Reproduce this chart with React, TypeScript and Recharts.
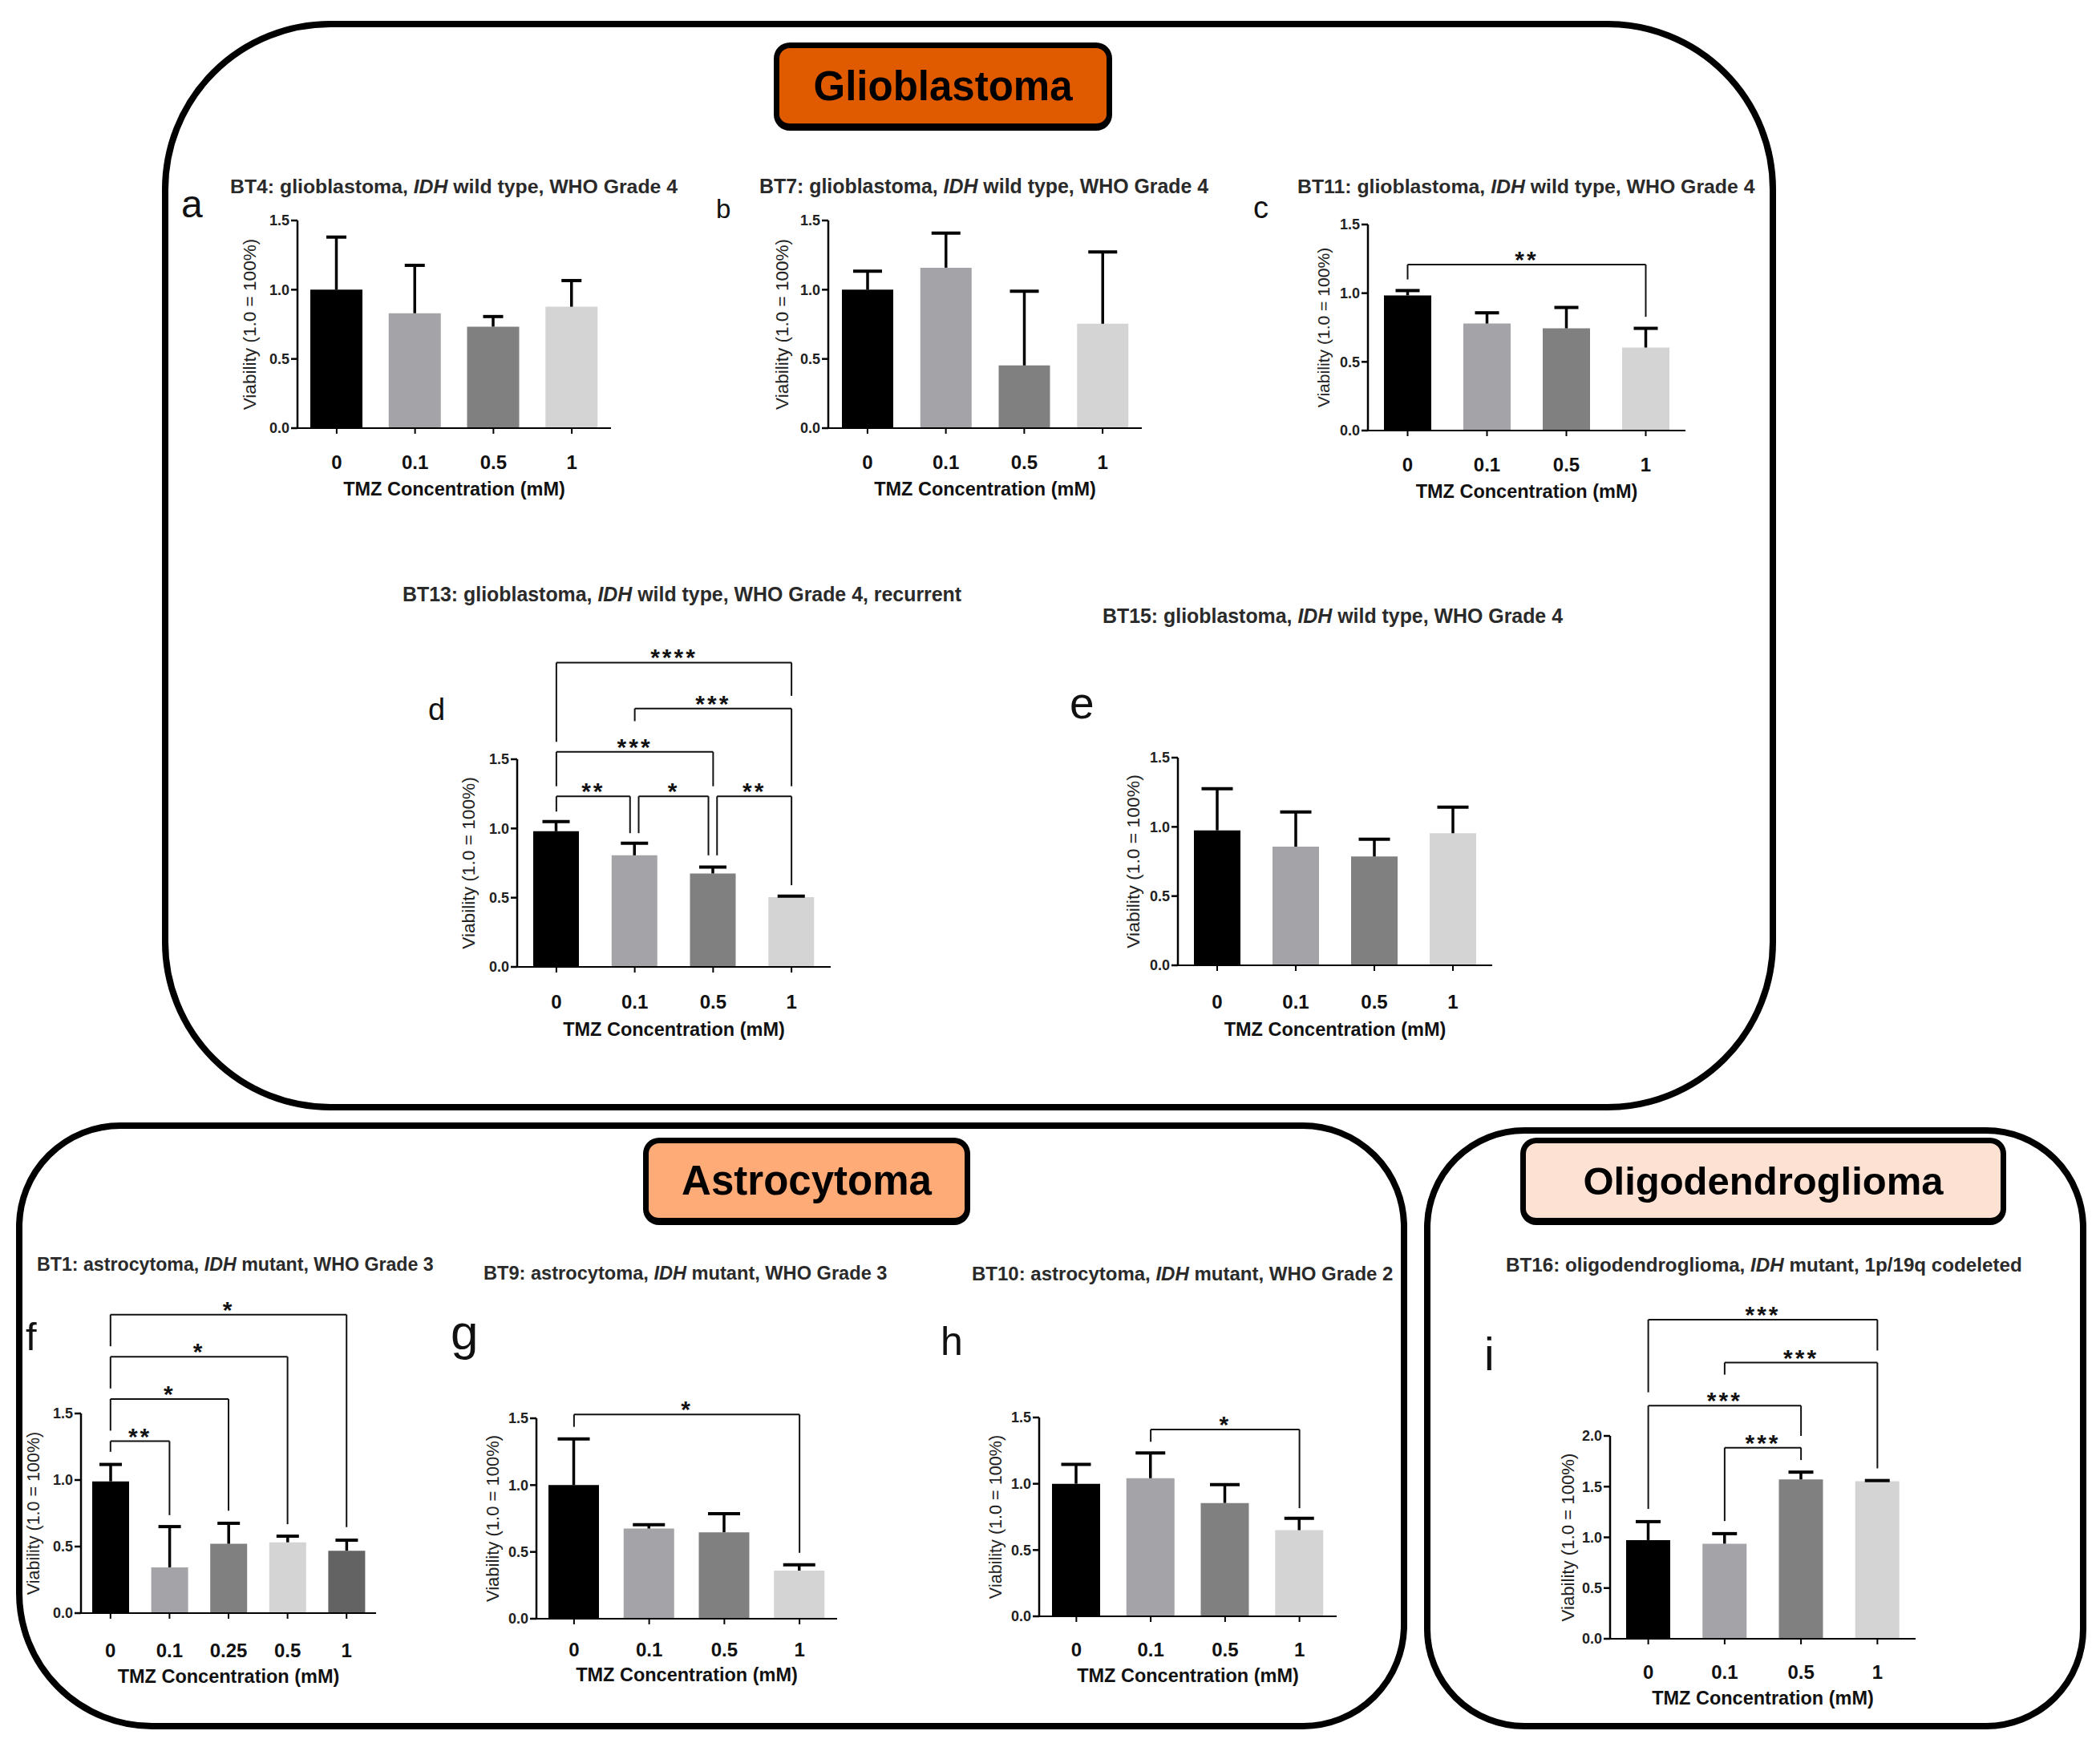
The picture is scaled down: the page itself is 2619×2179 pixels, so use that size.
import React from "react";
import { BarChart, Bar, XAxis, YAxis, Cell, ReferenceLine } from "recharts";

const SANS = '"Liberation Sans", Arial, Helvetica, sans-serif';

// categories (TMZ mM)
const DOSES_4 = ["0", "0.1", "0.5", "1"];
const DOSES_5 = ["0", "0.1", "0.25", "0.5", "1"];
const GRAYS_4 = ["#000000", "#a4a4a8", "#808080", "#d4d4d4"];
const GRAYS_5 = ["#000000", "#a4a4a8", "#808080", "#d4d4d4", "#636363"];

// viability means and upper error (SD) per cell line
const bt4Mean = [1.0, 0.83, 0.733, 0.877];
const bt4Err = [0.38, 0.346, 0.073, 0.189];
const bt7Mean = [1.0, 1.159, 0.453, 0.754];
const bt7Err = [0.134, 0.25, 0.536, 0.518];
const bt11Mean = [0.984, 0.779, 0.744, 0.604];
const bt11Err = [0.035, 0.078, 0.152, 0.14];
const bt13Mean = [0.98, 0.806, 0.675, 0.504];
const bt13Err = [0.069, 0.087, 0.046, 0.007];
const bt15Mean = [0.975, 0.857, 0.786, 0.954];
const bt15Err = [0.3, 0.25, 0.124, 0.188];
const bt1Mean = [0.99, 0.344, 0.521, 0.532, 0.469];
const bt1Err = [0.127, 0.306, 0.154, 0.046, 0.079];
const bt9Mean = [1.0, 0.675, 0.647, 0.36];
const bt9Err = [0.346, 0.028, 0.139, 0.043];
const bt10Mean = [1.0, 1.042, 0.855, 0.65];
const bt10Err = [0.146, 0.19, 0.138, 0.09];
const bt16Mean = [0.973, 0.9375, 1.571, 1.554];
const bt16Err = [0.182, 0.099, 0.072, 0.006];

const TICKS_15 = [0, 0.5, 1, 1.5];
const TICKS_20 = [0, 0.5, 1, 1.5, 2];

type Bracket = { from: number; to: number; y: number; yFrom: number; yTo: number; stars: string };

// significance brackets (x = category index, y in viability units)
const bt11Sig: Bracket[] = [{ from: 0, to: 3, y: 1.208, yFrom: 1.1, yTo: 0.828, stars: "**" }];
const bt13Sig: Bracket[] = [
  { from: 0, to: 0.94, y: 1.232, yFrom: 1.122, yTo: 0.966, stars: "**" },
  { from: 1.05, to: 1.94, y: 1.232, yFrom: 0.966, yTo: 0.806, stars: "*" },
  { from: 2.05, to: 3, y: 1.232, yFrom: 0.806, yTo: 0.59, stars: "**" },
  { from: 0, to: 2, y: 1.553, yFrom: 1.305, yTo: 1.305, stars: "***" },
  { from: 1, to: 3, y: 1.866, yFrom: 1.775, yTo: 1.305, stars: "***" },
  { from: 0, to: 3, y: 2.198, yFrom: 1.626, yTo: 1.958, stars: "****" },
];
const bt1Sig: Bracket[] = [
  { from: 0, to: 1, y: 1.292, yFrom: 1.212, yTo: 0.736, stars: "**" },
  { from: 0, to: 2, y: 1.609, yFrom: 1.371, yTo: 0.77, stars: "*" },
  { from: 0, to: 3, y: 1.926, yFrom: 1.688, yTo: 0.668, stars: "*" },
  { from: 0, to: 4, y: 2.243, yFrom: 2.005, yTo: 0.646, stars: "*" },
];
const bt9Sig: Bracket[] = [{ from: 0, to: 3, y: 1.528, yFrom: 1.436, yTo: 0.493, stars: "*" }];
const bt10Sig: Bracket[] = [{ from: 1, to: 3, y: 1.409, yFrom: 1.317, yTo: 0.816, stars: "*" }];
const bt16Sig: Bracket[] = [
  { from: 1, to: 2, y: 1.884, yFrom: 1.161, yTo: 1.762, stars: "***" },
  { from: 0, to: 2, y: 2.298, yFrom: 1.28, yTo: 2.0, stars: "***" },
  { from: 1, to: 3, y: 2.723, yFrom: 2.604, yTo: 1.68, stars: "***" },
  { from: 0, to: 3, y: 3.146, yFrom: 2.43, yTo: 2.842, stars: "***" },
];

type Geo = {
  L: number; R: number; T: number; B: number;
  barW: number; cap: number; ylabOff: number; ylabFs: number;
  tickOff: number; titleOff: number; tickFs: number; mTop: number;
};

function Whisker(props: any) {
  const { x, y, width, height, cap } = props;
  const cx = x + width / 2;
  return (
    <g>
      <line x1={cx} y1={y} x2={cx} y2={y + height} stroke="#000" strokeWidth={3.5} />
      <line x1={cx - cap / 2} y1={y} x2={cx + cap / 2} y2={y} stroke="#000" strokeWidth={4} />
    </g>
  );
}

function BarPanel({
  g, cats, mean, err, colors, yTicks, brackets = [],
}: {
  g: Geo; cats: string[]; mean: number[]; err: number[]; colors: string[];
  yTicks: number[]; brackets?: Bracket[];
}) {
  const W = 2 * g.ylabOff;
  const xH = 100;
  const mRight = 12;
  const width = W + (g.R - g.L) + mRight;
  const height = g.mTop + (g.B - g.T) + xH;
  const data = cats.map((c, i) => ({ c, i, v: mean[i], e: err[i] }));
  const xFs = 24;
  const tickMargin = g.tickOff - 7 - 0.36 * xFs;
  const titleOffset = xH - g.titleOff - 0.36 * 23.5;
  const yMax = yTicks[yTicks.length - 1];

  return (
    <div style={{ position: "absolute", left: g.L - W, top: g.T - g.mTop }}>
      <BarChart
        width={width}
        height={height}
        data={data}
        barSize={g.barW}
        margin={{ top: g.mTop, right: mRight, bottom: 0, left: 0 }}
      >
        <XAxis
          dataKey="c"
          height={xH}
          stroke="#000"
          strokeWidth={2}
          tickSize={7}
          tickMargin={tickMargin}
          tick={{ fill: "#111", fontSize: xFs, fontWeight: "bold", fontFamily: SANS }}
          label={{
            value: "TMZ Concentration (mM)",
            position: "insideBottom",
            offset: titleOffset,
            fill: "#111",
            fontSize: 23.5,
            fontWeight: "bold",
            fontFamily: SANS,
          }}
        />
        <XAxis xAxisId="n" type="number" dataKey="i" domain={[-0.5, cats.length - 0.5]} allowDataOverflow hide />
        <YAxis
          width={W}
          domain={[0, yMax]}
          ticks={yTicks}
          allowDataOverflow
          stroke="#000"
          strokeWidth={2.5}
          tickSize={8}
          tickMargin={2}
          tickFormatter={(v: number) => v.toFixed(1)}
          tick={{ fill: "#222", fontSize: g.tickFs, fontWeight: "bold", fontFamily: SANS }}
          label={{
            value: "Viability (1.0 = 100%)",
            angle: -90,
            position: "center",
            fill: "#222",
            fontSize: g.ylabFs,
            fontFamily: SANS,
          }}
        />
        <Bar dataKey="v" stackId="s" isAnimationActive={false}>
          {data.map((d, i) => (
            <Cell key={d.c} fill={colors[i]} />
          ))}
        </Bar>
        <Bar
          dataKey="e"
          stackId="s"
          isAnimationActive={false}
          shape={(p: any) => <Whisker {...p} cap={g.cap} />}
        />
        {brackets.flatMap((b, k) => [
          <ReferenceLine
            key={`h${k}`}
            xAxisId="n"
            ifOverflow="visible"
            stroke="#111"
            strokeWidth={2}
            segment={[{ x: b.from, y: b.y }, { x: b.to, y: b.y }]}
            label={{
              value: b.stars,
              position: "top",
              offset: -4,
              fill: "#111",
              fontSize: 30,
              fontWeight: "bold",
              letterSpacing: 3,
              fontFamily: SANS,
            }}
          />,
          <ReferenceLine
            key={`l${k}`}
            xAxisId="n"
            ifOverflow="visible"
            stroke="#111"
            strokeWidth={2}
            segment={[{ x: b.from, y: b.y }, { x: b.from, y: b.yFrom }]}
          />,
          <ReferenceLine
            key={`r${k}`}
            xAxisId="n"
            ifOverflow="visible"
            stroke="#111"
            strokeWidth={2}
            segment={[{ x: b.to, y: b.y }, { x: b.to, y: b.yTo }]}
          />,
        ])}
      </BarChart>
    </div>
  );
}

function Title({ x, cy, fs, pre, post }: { x: number; cy: number; fs: number; pre: string; post: string }) {
  return (
    <div
      style={{
        position: "absolute",
        left: x,
        top: cy - 0.5 * fs,
        fontSize: fs,
        lineHeight: 1,
        fontFamily: SANS,
        fontWeight: "bold",
        color: "#2a2a2a",
        whiteSpace: "nowrap",
      }}
    >
      {pre}
      <i>IDH</i>
      {post}
    </div>
  );
}

function Letter({ ch, x, base, fs }: { ch: string; x: number; base: number; fs: number }) {
  return (
    <div
      style={{
        position: "absolute",
        left: x,
        top: base - 0.85 * fs,
        fontSize: fs,
        lineHeight: 1,
        fontFamily: SANS,
        color: "#111",
      }}
    >
      {ch}
    </div>
  );
}

function Group({ x, y, w, h, r }: { x: number; y: number; w: number; h: number; r: string }) {
  return (
    <div
      style={{
        position: "absolute",
        left: x,
        top: y,
        width: w,
        height: h,
        boxSizing: "border-box",
        border: "8px solid #000",
        borderRadius: r,
      }}
    />
  );
}

function Tag({ x, y, w, h, fill, text, fs }: { x: number; y: number; w: number; h: number; fill: string; text: string; fs: number }) {
  return (
    <div
      style={{
        position: "absolute",
        left: x,
        top: y,
        width: w,
        height: h,
        boxSizing: "border-box",
        border: "7px solid #000",
        borderBottomWidth: 9,
        borderRadius: 20,
        background: fill,
        display: "flex",
        alignItems: "center",
        justifyContent: "center",
        fontFamily: SANS,
        fontWeight: "bold",
        fontSize: fs,
        color: "#000",
      }}
    >
      {text}
    </div>
  );
}

const gA: Geo = { L: 371, R: 762, T: 275, B: 534, barW: 65, cap: 25, ylabOff: 60, ylabFs: 22.6, tickOff: 43, titleOff: 76, tickFs: 18, mTop: 20 };
const gB: Geo = { L: 1033, R: 1424, T: 275, B: 534, barW: 64, cap: 36, ylabOff: 58, ylabFs: 22.5, tickOff: 43, titleOff: 76, tickFs: 18, mTop: 20 };
const gC: Geo = { L: 1706, R: 2102, T: 280, B: 537, barW: 59, cap: 30, ylabOff: 55, ylabFs: 21.1, tickOff: 43, titleOff: 76, tickFs: 18, mTop: 20 };
const gD: Geo = { L: 645, R: 1036, T: 947, B: 1206, barW: 57, cap: 34, ylabOff: 61, ylabFs: 22.7, tickOff: 43.5, titleOff: 78, tickFs: 18, mTop: 185 };
const gE: Geo = { L: 1469, R: 1861, T: 945, B: 1204, barW: 58, cap: 39, ylabOff: 56, ylabFs: 22.9, tickOff: 46, titleOff: 79.5, tickFs: 18, mTop: 20 };
const gF: Geo = { L: 101, R: 469, T: 1763, B: 2012, barW: 46, cap: 28, ylabOff: 60, ylabFs: 21.5, tickOff: 47, titleOff: 79, tickFs: 18, mTop: 180 };
const gG: Geo = { L: 669, R: 1044, T: 1769, B: 2019, barW: 63, cap: 40, ylabOff: 55, ylabFs: 22, tickOff: 39, titleOff: 69.6, tickFs: 18, mTop: 40 };
const gH: Geo = { L: 1296, R: 1667, T: 1768, B: 2016, barW: 60, cap: 37, ylabOff: 55, ylabFs: 21.6, tickOff: 41.8, titleOff: 74, tickFs: 18, mTop: 40 };
const gI: Geo = { L: 2008, R: 2389, T: 1791, B: 2044, barW: 55, cap: 31, ylabOff: 53, ylabFs: 22.2, tickOff: 41.4, titleOff: 73.4, tickFs: 18, mTop: 200 };

export default function App() {
  return (
    <div style={{ position: "absolute", left: 0, top: 0, width: 2619, height: 2179, background: "#fff", overflow: "hidden" }}>
      <Group x={202} y={26} w={2013} h={1359} r="210px" />
      <Group x={20} y={1400} w={1735} h={757} r="130px 130px 130px 170px" />
      <Group x={1776} y={1406} w={826} h={751} r="125px" />

      <Tag x={965} y={53} w={422} h={110} fill="#e05a00" text="Glioblastoma" fs={51} />
      <Tag x={802} y={1419} w={408} h={109} fill="#ffab78" text="Astrocytoma" fs={51} />
      <Tag x={1896} y={1419} w={606} h={109} fill="#fde2d3" text="Oligodendroglioma" fs={49} />

      <Title x={287} cy={233} fs={24.8} pre="BT4: glioblastoma, " post=" wild type, WHO Grade 4" />
      <Title x={947} cy={232} fs={24.9} pre="BT7: glioblastoma, " post=" wild type, WHO Grade 4" />
      <Title x={1618} cy={233} fs={24.8} pre="BT11: glioblastoma, " post=" wild type, WHO Grade 4" />
      <Title x={502} cy={741} fs={24.9} pre="BT13: glioblastoma, " post=" wild type, WHO Grade 4, recurrent" />
      <Title x={1375} cy={768} fs={24.9} pre="BT15: glioblastoma, " post=" wild type, WHO Grade 4" />
      <Title x={46} cy={1578} fs={23.2} pre="BT1: astrocytoma, " post=" mutant, WHO Grade 3" />
      <Title x={603} cy={1589} fs={23.6} pre="BT9: astrocytoma, " post=" mutant, WHO Grade 3" />
      <Title x={1212} cy={1589} fs={24} pre="BT10: astrocytoma, " post=" mutant, WHO Grade 2" />
      <Title x={1878} cy={1578} fs={24.2} pre="BT16: oligodendroglioma, " post=" mutant, 1p/19q codeleted" />

      <Letter ch="a" x={226} base={272} fs={48} />
      <Letter ch="b" x={893} base={272} fs={33} />
      <Letter ch="c" x={1563} base={272} fs={38} />
      <Letter ch="d" x={534} base={898} fs={38} />
      <Letter ch="e" x={1334} base={897} fs={55} />
      <Letter ch="f" x={32} base={1685} fs={49} />
      <Letter ch="g" x={562} base={1684} fs={62} />
      <Letter ch="h" x={1173} base={1690} fs={50} />
      <Letter ch="i" x={1851} base={1709} fs={57} />

      <BarPanel g={gA} cats={DOSES_4} mean={bt4Mean} err={bt4Err} colors={GRAYS_4} yTicks={TICKS_15} />
      <BarPanel g={gB} cats={DOSES_4} mean={bt7Mean} err={bt7Err} colors={GRAYS_4} yTicks={TICKS_15} />
      <BarPanel g={gC} cats={DOSES_4} mean={bt11Mean} err={bt11Err} colors={GRAYS_4} yTicks={TICKS_15} brackets={bt11Sig} />
      <BarPanel g={gD} cats={DOSES_4} mean={bt13Mean} err={bt13Err} colors={GRAYS_4} yTicks={TICKS_15} brackets={bt13Sig} />
      <BarPanel g={gE} cats={DOSES_4} mean={bt15Mean} err={bt15Err} colors={GRAYS_4} yTicks={TICKS_15} />
      <BarPanel g={gF} cats={DOSES_5} mean={bt1Mean} err={bt1Err} colors={GRAYS_5} yTicks={TICKS_15} brackets={bt1Sig} />
      <BarPanel g={gG} cats={DOSES_4} mean={bt9Mean} err={bt9Err} colors={GRAYS_4} yTicks={TICKS_15} brackets={bt9Sig} />
      <BarPanel g={gH} cats={DOSES_4} mean={bt10Mean} err={bt10Err} colors={GRAYS_4} yTicks={TICKS_15} brackets={bt10Sig} />
      <BarPanel g={gI} cats={DOSES_4} mean={bt16Mean} err={bt16Err} colors={GRAYS_4} yTicks={TICKS_20} brackets={bt16Sig} />
    </div>
  );
}
